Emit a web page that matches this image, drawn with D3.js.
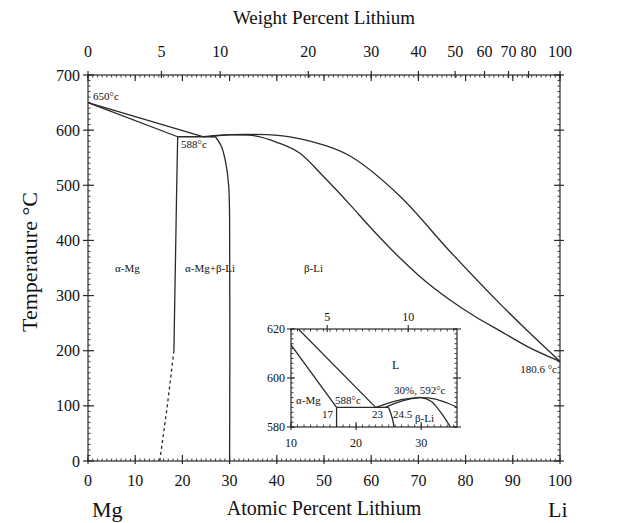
<!DOCTYPE html>
<html><head><meta charset="utf-8">
<script src="https://cdn.jsdelivr.net/npm/d3@7"></script>
<style>
body{margin:0;background:#fff;}
svg{display:block;font-family:"Liberation Serif","Times New Roman",serif;}
</style></head>
<body><svg id="c" width="628" height="523"></svg>
<script>
// ---------- data ----------
const atTicks = [0,10,20,30,40,50,60,70,80,90,100];
const wtTicks = [0,5,10,20,30,40,50,60,70,80,100];
const tempTicks = [0,100,200,300,400,500,600,700];

// main diagram curves: [atomic % Li, temperature °C]
const alphaSolidus = [[0,650],[19,588]];
const liquidusLeft = [[0,650],[24.5,588]];
const eutectic = [[19,588],[27,588]];
const alphaSolvus = [[19,588],[18.8,500],[18.6,400],[18.4,300],[18.2,200]];
const alphaSolvusDashed = [[18.2,200],[16.8,100],[15.2,0]];
const betaSolvus = [[27,588],[28.3,570],[29.2,540],[29.8,500],[30,440],[30,0]];
const liquidusRight = [[24.5,588],[28,591],[33,592.5],[38,592],[45,584],[55.5,553],[66.1,480],[76.7,380],[87.3,285],[93.6,232],[100,180.6]];
const solidusBeta = [[26,588],[30,591.5],[34,591],[40,578],[44.9,558],[50,515],[55.5,465],[60,422],[66.1,368],[70,337],[76.7,292],[82,262],[87.3,236],[93,208],[100,180.6]];

// inset curves
const insetAtTicks = [10,20,30];
const insetWtTicks = [5,10];
const insetTempTicks = [580,600,620];
const inAlphaSolidus = [[0,650],[17,588]];
const inLiquidusLeft = [[0,650],[23,588]];
const inEutectic = [[17,588],[25,588]];
const inAlphaSolvus = [[17,588],[17,580]];
const inBetaSolvus = [[25,588],[25.4,585],[25.7,582],[25.8,580]];
const inLiquidusRight = [[23,588],[26,590.6],[28,591.6],[30,592],[32,591.5],[34,589.8],[36,587.5]];
const inSolidusBeta = [[24.5,588],[26.5,590.2],[28.5,591.6],[30,592],[31.5,590.5],[33,586],[34.5,580],[35,578]];

// ---------- helpers ----------
const svg = d3.select("#c");
const ink = "#2a2a2a";
const at = wt => (wt/6.941)/((wt/6.941)+((100-wt)/24.305))*100;

const x = d3.scaleLinear().domain([0,100]).range([88,560]);
const y = d3.scaleLinear().domain([0,700]).range([461,75]);

function frame(g, xs, ys, opts){
  const [x0,x1] = xs.range(), [y0,y1] = ys.range();
  g.append("rect").attr("x",x0).attr("y",y1).attr("width",x1-x0).attr("height",y0-y1)
   .attr("fill","#fff").attr("stroke",ink).attr("stroke-width",1.2);
  const mt = opts.minorLen;
  d3.range(xs.domain()[0], xs.domain()[1]+1e-9, opts.xMinor).forEach(v=>{
    g.append("line").attr("x1",xs(v)).attr("x2",xs(v)).attr("y1",y0).attr("y2",y0-mt).attr("stroke",ink).attr("stroke-width",0.9);
    g.append("line").attr("x1",xs(v)).attr("x2",xs(v)).attr("y1",y1).attr("y2",y1+mt).attr("stroke",ink).attr("stroke-width",0.9);
  });
  d3.range(ys.domain()[0], ys.domain()[1]+1e-9, opts.yMinor).forEach(v=>{
    g.append("line").attr("x1",x0).attr("x2",x0+mt).attr("y1",ys(v)).attr("y2",ys(v)).attr("stroke",ink).attr("stroke-width",0.9);
    g.append("line").attr("x1",x1).attr("x2",x1-mt).attr("y1",ys(v)).attr("y2",ys(v)).attr("stroke",ink).attr("stroke-width",0.9);
  });
}

const lineGen = (xs,ys,curve) => d3.line().x(d=>xs(d[0])).y(d=>ys(d[1])).curve(curve||d3.curveLinear);

// ---------- main frame ----------
const gm = svg.append("g");
frame(gm, x, y, {xMinor:1, yMinor:10, minorLen:2.5});

atTicks.forEach(v=>{
  gm.append("line").attr("x1",x(v)).attr("x2",x(v)).attr("y1",461+3).attr("y2",461-6).attr("stroke",ink).attr("stroke-width",1.2);
  gm.append("line").attr("x1",x(v)).attr("x2",x(v)).attr("y1",75).attr("y2",75+6).attr("stroke",ink).attr("stroke-width",1.2);
  gm.append("text").attr("x",x(v)).attr("y",486).attr("text-anchor","middle").attr("font-size",16).attr("fill","#111").text(v);
});
wtTicks.forEach(v=>{
  const px = x(at(v));
  gm.append("line").attr("x1",px).attr("x2",px).attr("y1",75-4).attr("y2",75+3).attr("stroke",ink).attr("stroke-width",1.2);
  gm.append("text").attr("x",px).attr("y",57).attr("text-anchor","middle").attr("font-size",16).attr("fill","#111").text(v);
});
tempTicks.forEach(v=>{
  gm.append("line").attr("x1",88-5).attr("x2",88+6).attr("y1",y(v)).attr("y2",y(v)).attr("stroke",ink).attr("stroke-width",1.2);
  gm.append("line").attr("x1",560-6).attr("x2",560+4).attr("y1",y(v)).attr("y2",y(v)).attr("stroke",ink).attr("stroke-width",1.2);
  gm.append("text").attr("x",80).attr("y",y(v)+5.5).attr("text-anchor","end").attr("font-size",16).attr("fill","#111").text(v);
});

svg.append("text").attr("x",324).attr("y",24).attr("text-anchor","middle").attr("font-size",19).attr("fill","#111").text("Weight Percent Lithium");
svg.append("text").attr("transform","translate(37,262) rotate(-90)").attr("text-anchor","middle").attr("font-size",22).attr("fill","#111").text("Temperature °C");
svg.append("text").attr("x",324).attr("y",515).attr("text-anchor","middle").attr("font-size",20).attr("fill","#111").text("Atomic Percent Lithium");
svg.append("text").attr("x",92).attr("y",517).attr("font-size",22).attr("fill","#111").text("Mg");
svg.append("text").attr("x",548).attr("y",517).attr("font-size",22).attr("fill","#111").text("Li");

const curves = gm.append("g").attr("fill","none").attr("stroke",ink).attr("stroke-width",1.3);
curves.append("path").attr("d",lineGen(x,y)(alphaSolidus));
curves.append("path").attr("d",lineGen(x,y)(liquidusLeft));
curves.append("path").attr("d",lineGen(x,y)(eutectic));
curves.append("path").attr("d",lineGen(x,y,d3.curveCatmullRom)(alphaSolvus));
curves.append("path").attr("d",lineGen(x,y)(alphaSolvusDashed)).attr("stroke-dasharray","3,3");
curves.append("path").attr("d",lineGen(x,y,d3.curveCatmullRom)(betaSolvus));
curves.append("path").attr("d",lineGen(x,y,d3.curveMonotoneX)(liquidusRight));
curves.append("path").attr("d",lineGen(x,y,d3.curveMonotoneX)(solidusBeta));

const lab = (g,tx,ty,t,fs,anchor)=>g.append("text").attr("x",tx).attr("y",ty).attr("font-size",fs).attr("text-anchor",anchor||"start").attr("fill","#111").text(t);
lab(svg,93,100,"650°c",11);
lab(svg,181,148,"588°c",11);
lab(svg,115,272,"α-Mg",11);
lab(svg,185,272,"α-Mg+β-Li",11);
lab(svg,304,272,"β-Li",11);
lab(svg,557,373,"180.6 °c",11,"end");

// ---------- inset ----------
const ix = d3.scaleLinear().domain([10,35.5]).range([291,457]);
const iy = d3.scaleLinear().domain([580,620]).range([427,329]);
const gi = svg.append("g");
frame(gi, ix, iy, {xMinor:1, yMinor:2, minorLen:2.5});
insetAtTicks.forEach(v=>{
  gi.append("line").attr("x1",ix(v)).attr("x2",ix(v)).attr("y1",427+3).attr("y2",427-5).attr("stroke",ink).attr("stroke-width",1.1);
  gi.append("text").attr("x",ix(v)).attr("y",447).attr("text-anchor","middle").attr("font-size",12).attr("fill","#111").text(v);
});
insetWtTicks.forEach(v=>{
  const px = ix(at(v));
  gi.append("line").attr("x1",px).attr("x2",px).attr("y1",329-4).attr("y2",329+3).attr("stroke",ink).attr("stroke-width",1.1);
  gi.append("text").attr("x",px).attr("y",321).attr("text-anchor","middle").attr("font-size",12).attr("fill","#111").text(v);
});
insetTempTicks.forEach(v=>{
  gi.append("line").attr("x1",291-4).attr("x2",291+4).attr("y1",iy(v)).attr("y2",iy(v)).attr("stroke",ink).attr("stroke-width",1.1);
  gi.append("line").attr("x1",457-4).attr("x2",457+4).attr("y1",iy(v)).attr("y2",iy(v)).attr("stroke",ink).attr("stroke-width",1.1);
  gi.append("text").attr("x",285).attr("y",iy(v)+4).attr("text-anchor","end").attr("font-size",12).attr("fill","#111").text(v);
});
svg.append("clipPath").attr("id","ic").append("rect").attr("x",291).attr("y",329).attr("width",166).attr("height",98);
const ic = gi.append("g").attr("clip-path","url(#ic)").attr("fill","none").attr("stroke",ink).attr("stroke-width",1.3);
ic.append("path").attr("d",lineGen(ix,iy)(inAlphaSolidus));
ic.append("path").attr("d",lineGen(ix,iy)(inLiquidusLeft));
ic.append("path").attr("d",lineGen(ix,iy)(inEutectic));
ic.append("path").attr("d",lineGen(ix,iy)(inAlphaSolvus));
ic.append("path").attr("d",lineGen(ix,iy,d3.curveCatmullRom)(inBetaSolvus));
ic.append("path").attr("d",lineGen(ix,iy,d3.curveCatmullRom)(inLiquidusRight));
ic.append("path").attr("d",lineGen(ix,iy,d3.curveCatmullRom)(inSolidusBeta));
lab(gi,392,369,"L",12);
lab(gi,394,394,"30%, 592°c",11);
lab(gi,296,404,"α-Mg",11);
lab(gi,335,404,"588°c",11);
lab(gi,322,418,"17",11);
lab(gi,372,418,"23",11);
lab(gi,393,418,"24.5",11);
lab(gi,415,422,"β-Li",11);
</script></body></html>
